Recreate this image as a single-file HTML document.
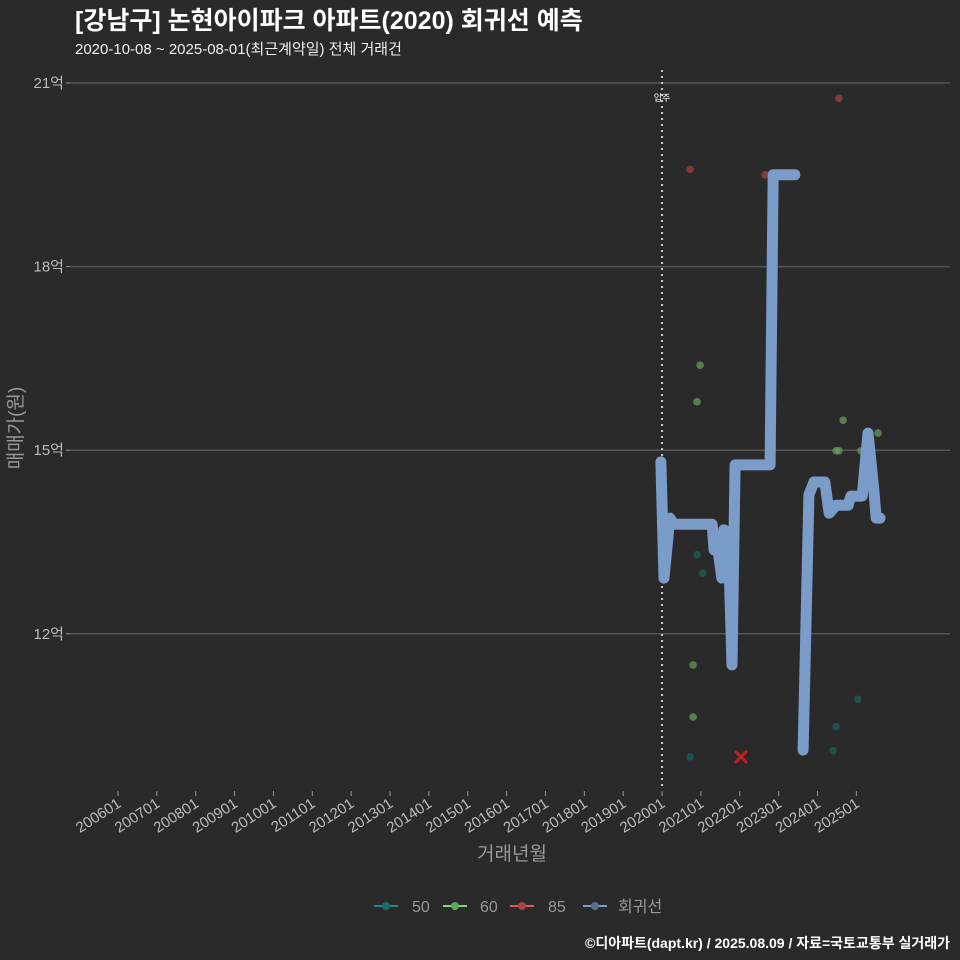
<!DOCTYPE html>
<html><head><meta charset="utf-8"><style>
body{margin:0;background:#2a2a2b;}
svg{display:block;font-family:"Liberation Sans","Noto Sans CJK KR",sans-serif;}
</style></head><body>
<svg id="c" width="960" height="960">
<rect width="960" height="960" fill="#2a2a2b"/>
<text x="75" y="29" font-size="25" font-weight="bold" fill="#fff">[강남구] 논현아이파크 아파트(2020) 회귀선 예측</text>
<text x="75" y="54" font-size="15" fill="#eee">2020-10-08 ~ 2025-08-01(최근계약일) 전체 거래건</text>
<g id="grid"></g>
<g id="xaxis"></g>
<g id="marks"></g>
<text x="512" y="860" font-size="19" fill="#999" text-anchor="middle">거래년월</text>
<text transform="translate(22,428) rotate(-90)" font-size="19" fill="#999" text-anchor="middle">매매가(원)</text>
<g>
<g><line x1="374" y1="906" x2="398" y2="906" stroke="#1f8a8a" stroke-width="2"/><circle cx="386" cy="906" r="4" fill="#1f6b6b"/><text x="412" y="912" font-size="16" fill="#999">50</text></g>
<g><line x1="443" y1="906" x2="467" y2="906" stroke="#7be07b" stroke-width="2"/><circle cx="455" cy="906" r="4" fill="#5fa85f"/><text x="480" y="912" font-size="16" fill="#999">60</text></g>
<g><line x1="510" y1="906" x2="534" y2="906" stroke="#e05555" stroke-width="2"/><circle cx="522" cy="906" r="4" fill="#a84444"/><text x="548" y="912" font-size="16" fill="#999">85</text></g>
<g><line x1="583" y1="906" x2="607" y2="906" stroke="#7b9cc9" stroke-width="2"/><circle cx="595" cy="906" r="4" fill="#5a6f8a"/><text x="618" y="912" font-size="16" fill="#999">회귀선</text></g>
</g>
<text x="950" y="948" font-size="14" font-weight="bold" fill="#fff" text-anchor="end">©디아파트(dapt.kr) / 2025.08.09 / 자료=국토교통부 실거래가</text>
</svg>
<script>
const yTicks=[12,15,18,21];
const xTickYears=[2006,2007,2008,2009,2010,2011,2012,2013,2014,2015,2016,2017,2018,2019,2020,2021,2022,2023,2024,2025];
const lineYears=[2019.97,2020.05,2020.20,2020.31,2021.29,2021.34,2021.44,2021.54,2021.59,2021.70,2021.80,2021.88,2022.78,2022.86,2023.42];
const lineVals=[14.81,12.91,13.89,13.79,13.79,13.37,13.37,12.91,13.70,13.66,11.49,14.76,14.76,19.50,19.50];
const line2Years=[2023.63,2023.78,2023.91,2024.19,2024.30,2024.48,2024.79,2024.86,2025.15,2025.30,2025.45,2025.51,2025.61];
const line2Vals=[10.10,14.27,14.48,14.48,13.97,14.10,14.10,14.25,14.25,15.28,14.35,13.89,13.89];
const s50Years=[2020.72,2020.90,2021.05,2024.40,2024.48,2025.04];
const s50Vals=[9.99,13.29,12.99,10.09,10.48,10.93];
const s60Years=[2020.98,2020.90,2020.80,2020.80,2024.66,2024.48,2024.55,2025.12,2025.56];
const s60Vals=[16.39,15.79,11.49,10.64,15.49,14.99,14.99,14.99,15.28];
const s85Years=[2020.72,2022.65,2024.55];
const s85Vals=[19.59,19.50,20.75];
const cancelYears=[2022.03];
const cancelVals=[9.99];
const moveInYear=2020.0;

const NS='http://www.w3.org/2000/svg';
const X=y=>118+(y-2006)*38.86;
const Y=v=>83+(21-v)*61.2;
function mk(tag,attrs,parent){const e=document.createElementNS(NS,tag);for(const k in attrs)e.setAttribute(k,attrs[k]);parent.appendChild(e);return e;}
const grid=document.getElementById('grid'),xa=document.getElementById('xaxis'),marks=document.getElementById('marks');
yTicks.forEach(v=>{
 const l=mk('line',{x1:70,x2:950,y1:Y(v),y2:Y(v),stroke:'#555','stroke-width':1.5},grid);
 
 
 const t=mk('line',{x1:66,x2:70,y1:Y(v),y2:Y(v),stroke:'#999'},grid);
 
 
 const tx=mk('text',{x:64,y:Y(v)+5,'font-size':15,fill:'#bbb','text-anchor':'end'},grid);
 tx.textContent=v+'억';
 
 
});
xTickYears.forEach(yr=>{
 const x=X(yr);
 const t=mk('line',{x1:x,x2:x,y1:791,y2:796,stroke:'#999'},xa);
 
 
 const tx=mk('text',{transform:`translate(${x+4},${806}) rotate(-33)`,'font-size':15,fill:'#bbb','text-anchor':'end'},xa);
 tx.textContent=yr+'01';
 
 
});
const mv=mk('line',{x1:X(moveInYear),x2:X(moveInYear),y1:70,y2:790,stroke:'#ccc','stroke-width':2,'stroke-dasharray':'2,4'},marks);


const mt=mk('text',{x:X(moveInYear),y:101,'font-size':9,fill:'#fff','text-anchor':'middle'},marks);
mt.textContent='입주';


function dots(ys,vs,fill,name){ys.forEach((y,i)=>{
 const c=mk('circle',{cx:X(y),cy:Y(vs[i]),r:3.8,fill:fill,'fill-opacity':0.75},marks);
 
 
});}
dots(s50Years,s50Vals,'#1f5e5a','point-50');
dots(s60Years,s60Vals,'#6a9a5a','point-60');
dots(s85Years,s85Vals,'#9a4444','point-85');
[[lineYears,lineVals],[line2Years,line2Vals]].forEach(([ys,vs])=>{
 const p=mk('polyline',{points:ys.map((y,i)=>X(y)+','+Y(vs[i])).join(' '),fill:'none',stroke:'#7b9cc9','stroke-width':11,'stroke-linecap':'round','stroke-linejoin':'round'},marks);
 
 
});
cancelYears.forEach((y,i)=>{
 const x=X(y),yy=Y(cancelVals[i]);
 const g=mk('path',{d:`M${x-6},${yy-6}L${x+6},${yy+6}M${x+6},${yy-6}L${x-6},${yy+6}`,stroke:'#c02020','stroke-width':3},marks);
 
 
});
</script>
</body></html>
